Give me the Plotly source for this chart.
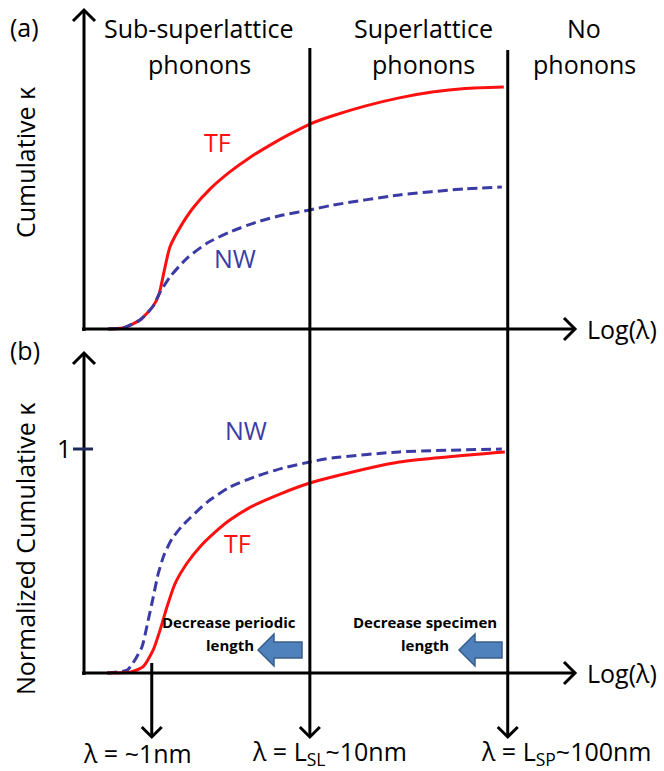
import plotly.graph_objects as go

# ---------------- data (schematic Log(lambda) units, arbitrary kappa units) ----------------
tf_a_x = [0.49, 0.79, 1.14, 1.41, 1.53, 1.59, 1.65, 1.75, 1.96, 2.22, 2.57, 2.97, 3.38, 3.79, 4.20, 4.60, 5.05, 5.72, 6.42, 7.09, 7.76, 8.55]
tf_a_y = [0.0, 0.004, 0.037, 0.095, 0.145, 0.198, 0.256, 0.339, 0.421, 0.500, 0.579, 0.649, 0.709, 0.760, 0.806, 0.847, 0.880, 0.921, 0.955, 0.979, 0.994, 1.000]

nw_a_x = [0.49, 0.79, 1.14, 1.41, 1.53, 1.75, 2.10, 2.51, 2.97, 3.52, 4.05, 4.60, 5.07, 6.42, 7.76, 8.51]
nw_a_y = [0.0, 0.004, 0.037, 0.095, 0.145, 0.215, 0.293, 0.355, 0.401, 0.442, 0.471, 0.492, 0.512, 0.554, 0.579, 0.587]

nw_b_x = [0.47, 0.88, 1.00, 1.18, 1.30, 1.41, 1.51, 1.63, 1.79, 1.98, 2.16, 2.51, 2.97, 3.52, 4.05, 4.60, 5.05, 6.42, 8.51]
nw_b_y = [0.0, 0.013, 0.045, 0.116, 0.228, 0.339, 0.442, 0.527, 0.598, 0.652, 0.692, 0.763, 0.830, 0.879, 0.915, 0.942, 0.960, 0.987, 1.000]

tf_b_x = [0.47, 0.94, 1.20, 1.41, 1.55, 1.69, 1.85, 2.10, 2.36, 2.67, 2.97, 3.44, 3.99, 4.60, 5.05, 6.42, 8.57]
tf_b_y = [0.0, 0.004, 0.027, 0.103, 0.192, 0.295, 0.397, 0.491, 0.563, 0.629, 0.683, 0.746, 0.799, 0.848, 0.875, 0.942, 0.987]

# characteristic wavelengths (Log(lambda) axis positions) and their labels
marker_x = [1.38, 4.60, 8.63]
marker_labels = ["λ = ~1nm", "λ = L<sub>SL</sub>~10nm", "λ = L<sub>SP</sub>~100nm"]
region_labels = [("Sub-superlattice", "phonons"), ("Superlattice", "phonons"), ("No", "phonons")]

# ---------------- layout geometry (pixels) ----------------
W, H = 664, 771
X0PX, SX = 84.0, 49.1          # x=0 at pixel 84, px per unit
Y0A, SYA = 329.0, 242.0        # panel (a) baseline and px per unit
Y0B, SYB = 673.0, 224.0        # panel (b) baseline and px per unit

xr = [-X0PX / SX, (W - X0PX) / SX]
yar = [(Y0A - H) / SYA, Y0A / SYA]
ybr = [(Y0B - H) / SYB, Y0B / SYB]

FONT = "'Open Sans', sans-serif"
RED = "#ff1010"
BLUE = "#3b3ba6"


def pxx(x):
    return x / W


def pxy(y):
    return 1 - y / H


def data_px(x):
    return X0PX + x * SX


fig = go.Figure()

line_red = dict(color=RED, width=3, shape="spline", smoothing=0.6)
line_blue = dict(color=BLUE, width=3, dash="10px,5px", shape="spline", smoothing=0.6)
fig.add_trace(go.Scatter(x=tf_a_x, y=tf_a_y, mode="lines", line=line_red, xaxis="x", yaxis="y", hoverinfo="skip"))
fig.add_trace(go.Scatter(x=nw_a_x, y=nw_a_y, mode="lines", line=line_blue, xaxis="x", yaxis="y", hoverinfo="skip"))
fig.add_trace(go.Scatter(x=nw_b_x, y=nw_b_y, mode="lines", line=line_blue, xaxis="x", yaxis="y2", hoverinfo="skip"))
fig.add_trace(go.Scatter(x=tf_b_x, y=tf_b_y, mode="lines", line=line_red, xaxis="x", yaxis="y2", hoverinfo="skip"))

shapes = []
LW = 3


def line_px(x1, y1, x2, y2, color="black", width=LW):
    shapes.append(dict(type="line", xref="paper", yref="paper", x0=pxx(x1), y0=pxy(y1), x1=pxx(x2), y1=pxy(y2),
                       line=dict(color=color, width=width), layer="above"))


def head_px(tx, ty, direction, size=11):
    if direction == "up":
        pts = [(tx - size, ty + size), (tx, ty), (tx + size, ty + size)]
    elif direction == "down":
        pts = [(tx - size, ty - size), (tx, ty), (tx + size, ty - size)]
    else:  # right
        pts = [(tx - size, ty - size), (tx, ty), (tx - size, ty + size)]
    path = "M {} {} L {} {} L {} {}".format(*(v for p in pts for v in (pxx(p[0]), pxy(p[1]))))
    shapes.append(dict(type="path", xref="paper", yref="paper", path=path, line=dict(color="black", width=LW), layer="above"))


# panel (a) axes
line_px(84, 331, 84, 11)
head_px(84, 10, "up")
line_px(82, Y0A, 574, Y0A)
head_px(575, Y0A, "right")
# panel (b) axes
line_px(84, 675, 84, 354)
head_px(84, 353, "up")
line_px(82, Y0B, 574, Y0B)
head_px(575, Y0B, "right")

# vertical marker lines with downward arrows
tops = [663, 48, 50]
ARROW_TIP = 737
for mx, top in zip(marker_x, tops):
    px = data_px(mx)
    line_px(px, top, px, ARROW_TIP - 1)
    head_px(px, ARROW_TIP, "down", size=10)

# tick "1" on normalized axis
shapes.append(dict(type="line", xref="paper", yref="y2", x0=pxx(73), x1=pxx(93), y0=1, y1=1,
                   line=dict(color="#1f2a5c", width=3), layer="above"))

# block arrows (pointing left)
AFILL, AEDGE = "#4f81bd", "#385d8a"
for tip, base, end in [(258, 274, 302), (459, 475, 502)]:
    yc = 650
    pts = [(tip, yc), (base, yc - 16), (base, yc - 8), (end, yc - 8), (end, yc + 8), (base, yc + 8), (base, yc + 16)]
    path = "M " + " L ".join("{} {}".format(pxx(a), pxy(b)) for a, b in pts) + " Z"
    shapes.append(dict(type="path", xref="paper", yref="paper", path=path, fillcolor=AFILL,
                       line=dict(color=AEDGE, width=1.5), layer="above"))

ann = []


def text(t, x, y, size=25, color="black", xanchor="center", angle=0, bold=False):
    ann.append(dict(text=t, x=pxx(x), y=pxy(y), xref="paper", yref="paper", showarrow=False,
                    xanchor=xanchor, yanchor="middle", textangle=angle,
                    font=dict(family=FONT, size=size, color=color, weight="bold" if bold else "normal")))


text("(a)", 8, 27, xanchor="left")
text("(b)", 8, 350, xanchor="left")
for (l1, l2), cx in zip(region_labels, [199, 423, 584]):
    text(l1, cx, 28)
    text(l2, cx, 64)
text("Cumulative κ", 25, 163, angle=-90)
text("Normalized Cumulative κ", 25, 549, angle=-90)
text("Log(λ)", 585, 329, xanchor="left")
text("Log(λ)", 585, 673, xanchor="left")
text("TF", 217, 142, color=RED)
text("NW", 235, 258, color=BLUE)
text("NW", 246, 430, color=BLUE)
text("TF", 237, 543, color=RED)
text("1", 64, 448)
text("Decrease periodic", 229, 622, size=15, bold=True)
text("length", 230, 645, size=15, bold=True)
text("Decrease specimen", 425, 622, size=15, bold=True)
text("length", 425, 645, size=15, bold=True)
text(marker_labels[0], 137, 753)
text(marker_labels[1], 329, 752)
text(marker_labels[2], 566, 752)

hidden = dict(visible=False, showgrid=False, zeroline=False, fixedrange=True)
fig.update_layout(
    width=W, height=H, margin=dict(l=0, r=0, t=0, b=0),
    paper_bgcolor="white", plot_bgcolor="white", showlegend=False,
    xaxis=dict(range=xr, domain=[0, 1], anchor="y", **hidden),
    yaxis=dict(range=yar, domain=[0, 1], anchor="x", **hidden),
    yaxis2=dict(range=ybr, domain=[0, 1], anchor="x", overlaying="y", **hidden),
    shapes=shapes, annotations=ann,
)

fig.write_html("out.html")
